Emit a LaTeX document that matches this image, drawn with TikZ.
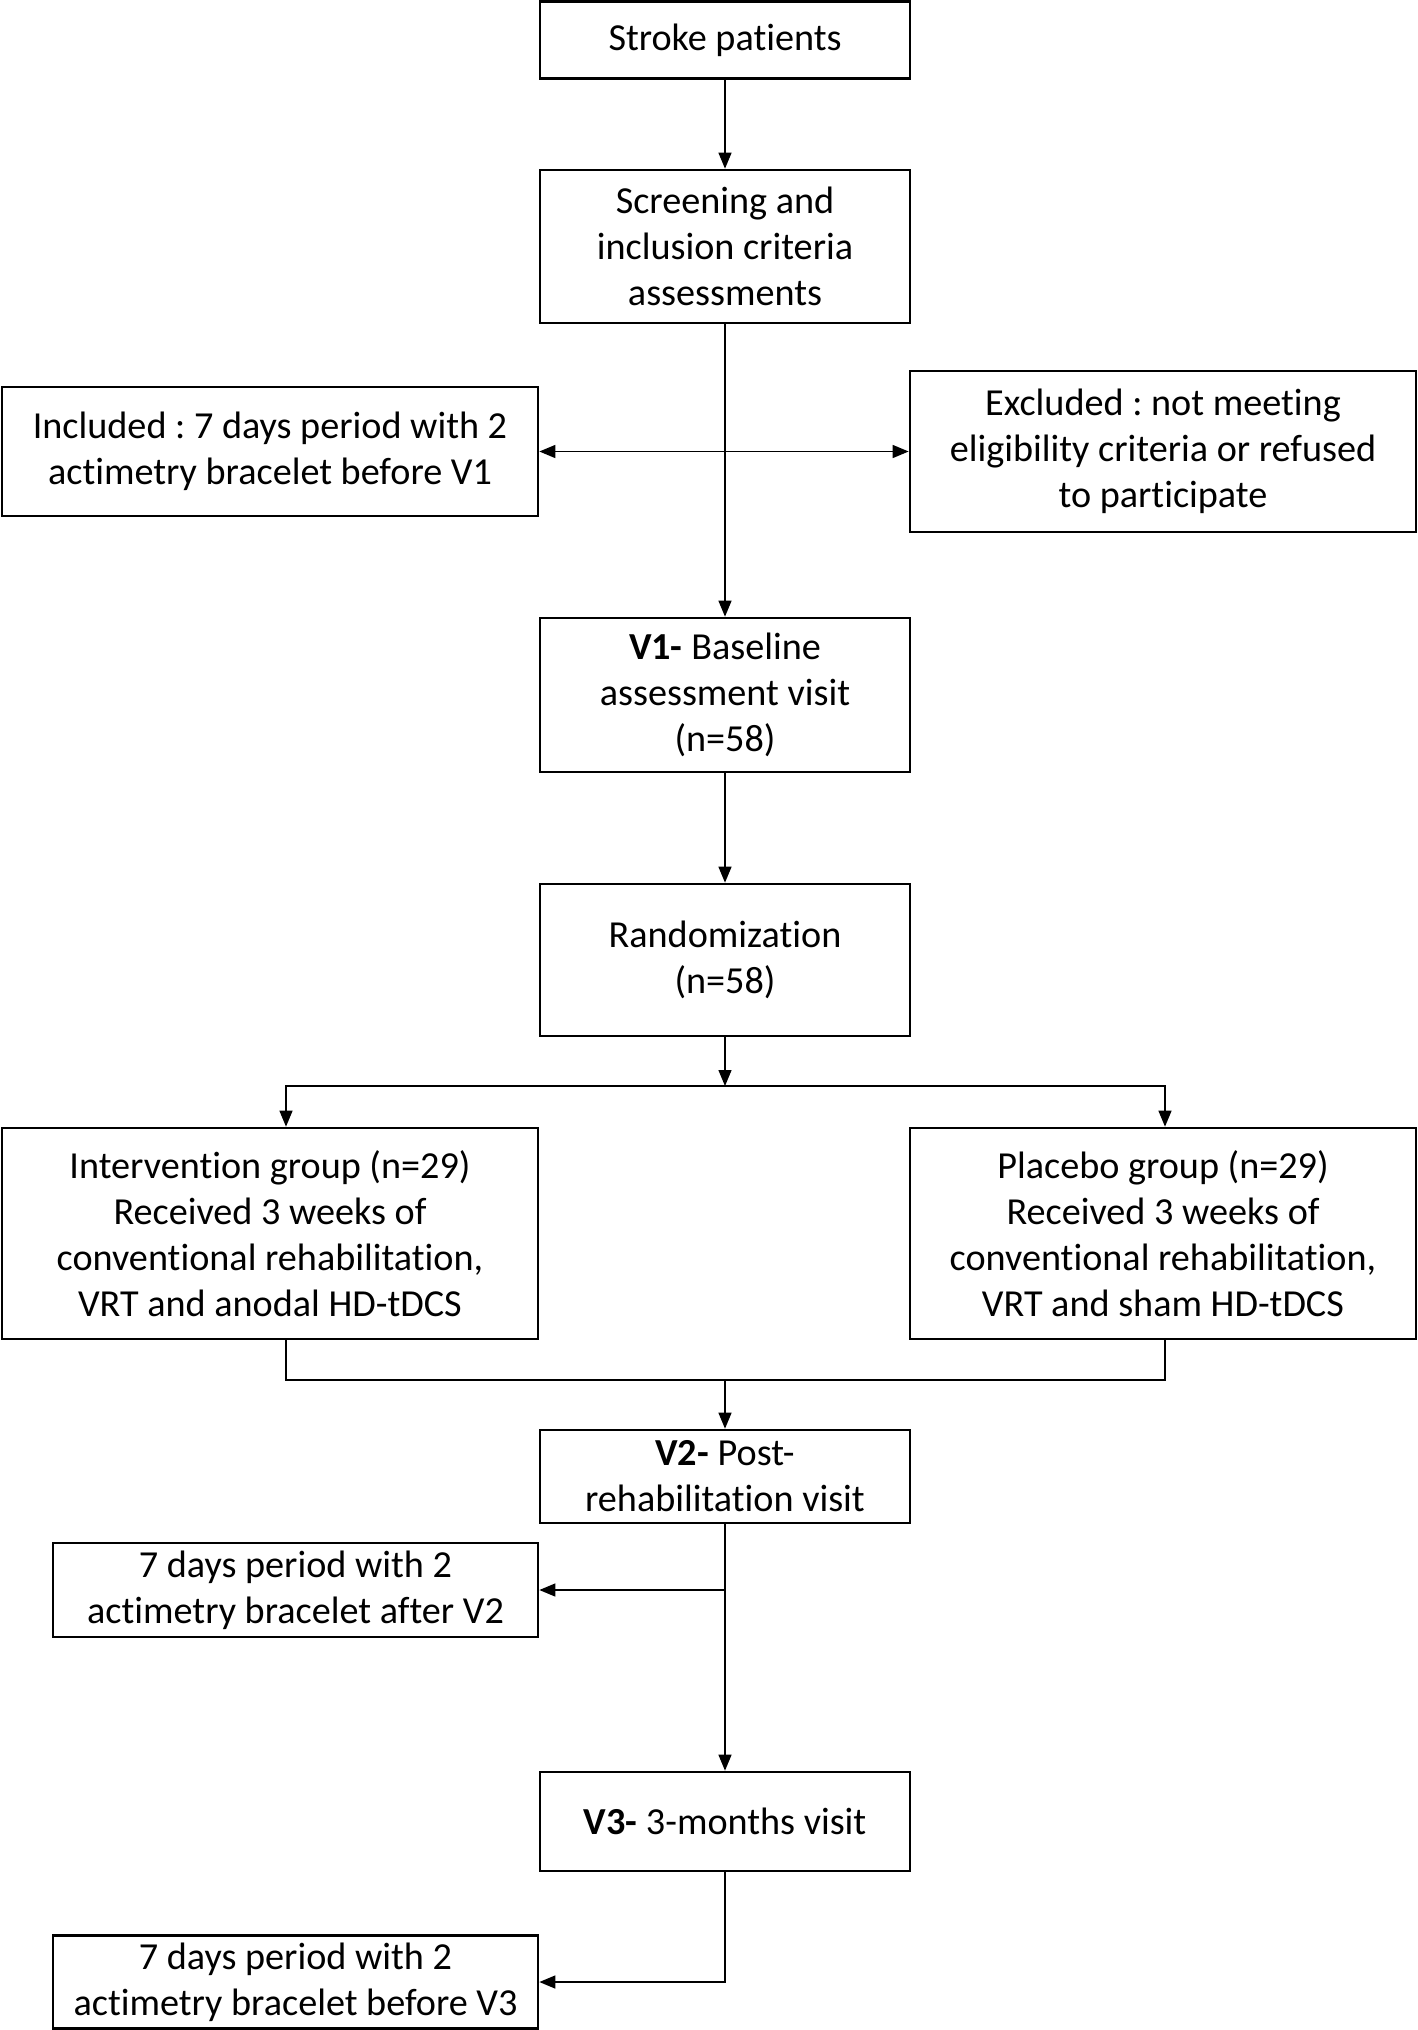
\documentclass[tikz,border=0pt]{standalone}
\usepackage{fontspec}
\setmainfont{Carlito}[Ligatures=NoCommon]
\usetikzlibrary{arrows.meta}
\frenchspacing

\begin{document}
\begin{tikzpicture}[x=0.5pt,y=-0.5pt,>={Triangle[length=8pt,width=6.5pt]},
        box/.style={draw,line width=1.35pt,align=center,inner sep=0pt,font=\fontsize{19.1}{23}\selectfont},
        conn/.style={line width=0.7pt}]
        \useasboundingbox (0,0) rectangle (1418,2030);

        \node[box,minimum width=185pt,minimum height=38.5pt] (stroke) at (725,40) {Stroke patients};
        \node[box,minimum width=185pt,minimum height=76.5pt] (screen) at (725,246.5) {Screening and\\inclusion criteria\\assessments};
        \node[box,minimum width=268pt,minimum height=64.5pt] (incl) at (270,451.5) {Included : 7 days period with 2\\actimetry bracelet before V1};
        \node[box,minimum width=253pt,minimum height=80.5pt] (excl) at (1163,451.5) {Excluded : not meeting\\eligibility criteria or refused\\to participate};
        \node[box,minimum width=185pt,minimum height=77pt] (v1) at (725,695) {\textbf{V1-} Baseline\\assessment visit\\(n=58)};
        \node[box,minimum width=185pt,minimum height=76pt] (rand) at (725,960) {Randomization\\(n=58)};
        \node[box,minimum width=268pt,minimum height=105.5pt] (interv) at (270,1233.5) {Intervention group (n=29)\\Received 3 weeks of\\conventional rehabilitation,\\VRT and anodal HD-tDCS};
        \node[box,minimum width=253pt,minimum height=105.5pt] (placebo) at (1163,1233.5) {Placebo group (n=29)\\Received 3 weeks of\\conventional rehabilitation,\\VRT and sham HD-tDCS};
        \node[box,minimum width=185pt,minimum height=46.5pt] (v2) at (725,1476.5) {\textbf{V2-} Post-\\rehabilitation visit};
        \node[box,minimum width=242.5pt,minimum height=47pt] (after) at (295.5,1590) {7 days period with 2\\actimetry bracelet after V2};
        \node[box,minimum width=185pt,minimum height=49.5pt] (v3) at (725,1821.5) {\textbf{V3-} 3-months visit};
        \node[box,minimum width=242.5pt,minimum height=46.25pt] (before) at (295.5,1982) {7 days period with 2\\actimetry bracelet before V3};

        \coordinate (split) at (725,1086);
        \coordinate (merge) at (725,1380);

        \draw[conn,->] (stroke) -- (screen);
        \draw[conn,->] (screen) -- (v1);
        \draw[conn,<->] (incl) -- (excl);
        \draw[conn,->] (v1) -- (rand);
        \draw[conn,->] (rand) -- (split);
        \draw[conn,->] (split) -| ([xshift=8pt]interv.north);
        \draw[conn,->] (split) -| ([xshift=1pt]placebo.north);
        \draw[conn] ([xshift=8pt]interv.south) |- (merge) -| ([xshift=1pt]placebo.south);
        \draw[conn,->] (merge) -- (v2);
        \draw[conn,->] (v2) -- (v3);
        \draw[conn,->] (v2.south |- after.east) -- (after.east);
        \draw[conn,->] (v3.south) |- (before.east);
    \end{tikzpicture}
\end{document}
